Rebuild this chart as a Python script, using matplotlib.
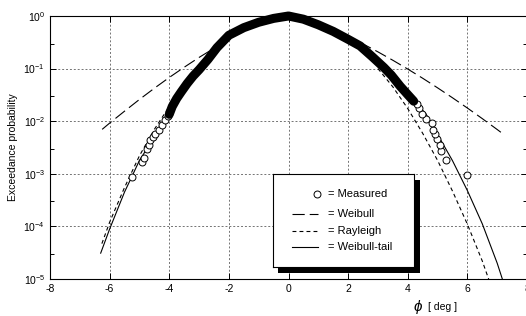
import matplotlib
matplotlib.use('Agg')
import matplotlib.pyplot as plt
from matplotlib.patches import Rectangle
from matplotlib.ticker import LogLocator, FixedLocator

plt.rcParams['font.family'] = ['Liberation Sans', 'DejaVu Sans']
plt.rcParams['axes.unicode_minus'] = False
plt.rcParams['mathtext.fontset'] = 'custom'
plt.rcParams['mathtext.rm'] = 'Liberation Sans'
plt.rcParams['mathtext.it'] = 'Liberation Sans:italic'
plt.rcParams['mathtext.default'] = 'regular'

# measured exceedance probabilities, dense middle part (read along the band)
band_x = [-4.0, -3.9, -3.75, -3.6, -3.4, -3.2, -3.0, -2.7, -2.4, -2.0, -1.5, -1.0, -0.5,
          0.0, 0.5, 1.0, 1.5, 2.0, 2.4, 2.8, 3.2, 3.45, 3.75, 4.0, 4.2]
band_y = [0.0135, 0.019, 0.027, 0.036, 0.052, 0.072, 0.095, 0.15, 0.25, 0.43, 0.60, 0.76, 0.90,
          1.0, 0.87, 0.68, 0.51, 0.36, 0.27, 0.17, 0.105, 0.075, 0.046, 0.032, 0.024]

# measured points in the tails (single circles)
meas_x = [-5.26, -4.92, -4.86, -4.75, -4.69, -4.64, -4.56, -4.47, -4.36, -4.25, -4.13, -4.05,
          5.98, 5.28, 5.13, 5.09, 4.97, 4.92, 4.86, 4.81, 4.6, 4.49, 4.38, 4.3]
meas_y = [8.7e-4, 1.7e-3, 2.0e-3, 2.9e-3, 3.5e-3, 4.4e-3, 4.9e-3, 5.8e-3, 6.9e-3, 8.4e-3, 1.05e-2, 1.25e-2,
          9.3e-4, 1.87e-3, 2.7e-3, 3.6e-3, 4.6e-3, 5.6e-3, 6.9e-3, 9.1e-3, 1.08e-2, 1.4e-2, 1.75e-2, 2.1e-2]

# Weibull fit
weib_left_x = [-6.25, -6.0, -5.5, -5.0, -4.5, -4.0, -3.5, -3.0, -2.5, -2.2]
weib_left_y = [0.0070, 0.0092, 0.0155, 0.0259, 0.0423, 0.0678, 0.106, 0.163, 0.243, 0.30]
weib_right_x = [2.4, 2.6, 3.0, 3.5, 4.0, 4.5, 5.0, 5.5, 6.0, 6.5, 7.0, 7.2]
weib_right_y = [0.314, 0.275, 0.208, 0.144, 0.098, 0.0656, 0.0431, 0.0279, 0.0178, 0.0112, 0.00695, 0.00571]

# Rayleigh fit
ray_left_x = [-6.26, -6.0, -5.5, -5.0, -4.5, -4.0, -3.5]
ray_left_y = [4.7e-5, 1.2e-4, 5.5e-4, 2.2e-3, 7.0e-3, 0.019, 0.045]
ray_right_x = [3.0, 3.5, 4.0, 4.5, 5.0, 5.5, 6.0, 6.5, 6.9]
ray_right_y = [0.10, 0.045, 0.0174, 5.9e-3, 1.8e-3, 4.7e-4, 1.1e-4, 2.2e-5, 5.0e-6]

# Weibull-tail fit
tail_left_x = [-6.3, -6.0, -5.5, -5.26, -5.0, -4.7, -4.4, -4.1]
tail_left_y = [3.1e-5, 8.9e-5, 4.5e-4, 8.7e-4, 1.8e-3, 3.3e-3, 6.6e-3, 0.012]
tail_right_x = [4.2, 4.6, 5.0, 5.5, 6.0, 6.5, 7.0, 7.3]
tail_right_y = [0.024, 0.0141, 5.6e-3, 1.78e-3, 4.8e-4, 1.12e-4, 2.0e-5, 6.0e-6]

xticks = [-8, -6, -4, -2, 0, 2, 4, 6, 8]

fig = plt.figure(figsize=(5.26, 3.16), dpi=100)
ax = fig.add_axes([50 / 526, 37 / 316, 477 / 526, 263 / 316])
ax.set_zorder(0)

ax.set_yscale('log')
ax.set_xlim(-8, 8)
ax.set_ylim(1e-5, 1)
ax.xaxis.set_major_locator(FixedLocator(xticks))
ax.yaxis.set_major_locator(LogLocator(base=10, numticks=10))
ax.yaxis.set_minor_locator(LogLocator(base=10, subs=[3.0], numticks=10))
ax.yaxis.set_minor_formatter(plt.NullFormatter())
ax.tick_params(which='both', direction='in', top=True, right=True, labelsize=7.5, width=0.7)
ax.tick_params(which='major', length=4)
ax.tick_params(which='minor', length=3)
ax.grid(True, which='major', color='0.45', linestyle=(0, (2, 2)), linewidth=0.7)
for s in ax.spines.values():
    s.set_linewidth(0.8)

ax.plot(weib_left_x, weib_left_y, color='black', lw=0.8, linestyle=(0, (11, 4.5)))
ax.plot(weib_right_x, weib_right_y, color='black', lw=0.8, linestyle=(0, (11, 4.5)))
ax.plot(ray_left_x, ray_left_y, color='black', lw=0.8, linestyle=(0, (3.5, 2.8)))
ax.plot(ray_right_x, ray_right_y, color='black', lw=0.8, linestyle=(0, (3.5, 2.8)))
ax.plot(tail_left_x, tail_left_y, color='black', lw=0.8)
ax.plot(tail_right_x, tail_right_y, color='black', lw=0.8)

ax.plot(meas_x, meas_y, 'o', ms=5, mfc='white', mec='black', mew=0.7, zorder=4)
ax.plot(band_x, band_y, color='black', lw=6.5, solid_capstyle='round', solid_joinstyle='round',
        zorder=5, clip_on=False)

ax.set_ylabel('Exceedance probability', fontsize=7.5, labelpad=4)
fig.text(413 / 526, 1 - 307 / 316, r'$\it{\phi}$', fontsize=11, ha='left', va='center')
fig.text(428 / 526, 1 - 307 / 316, '[ deg ]', fontsize=7.5, ha='left', va='center')

# legend box with drop shadow
shadow = Rectangle((278 / 526, 43 / 316), 142 / 526, 93 / 316, transform=fig.transFigure,
                   facecolor='black', edgecolor='none', zorder=1)
fig.patches.append(shadow)
lax = fig.add_axes([273 / 526, 49 / 316, 141 / 526, 93 / 316])
lax.set_zorder(2)
lax.set_xlim(0, 1)
lax.set_ylim(0, 1)
lax.set_xticks([])
lax.set_yticks([])
for s in lax.spines.values():
    s.set_linewidth(0.8)

lax.plot([0.314], [0.782], 'o', ms=5, mfc='white', mec='black', mew=0.7)
lax.plot([0.133, 0.321], [0.567, 0.567], color='black', lw=0.8, linestyle=(0, (11, 4.5)))
lax.plot([0.133, 0.321], [0.387, 0.387], color='black', lw=0.8, linestyle=(0, (3.5, 2.8)))
lax.plot([0.133, 0.321], [0.218, 0.218], color='black', lw=0.8)
for yy, lab in zip([0.782, 0.567, 0.387, 0.218], ['= Measured', '= Weibull', '= Rayleigh', '= Weibull-tail']):
    lax.text(0.392, yy, lab, fontsize=8, ha='left', va='center')

fig.savefig('out.png', dpi=100)
